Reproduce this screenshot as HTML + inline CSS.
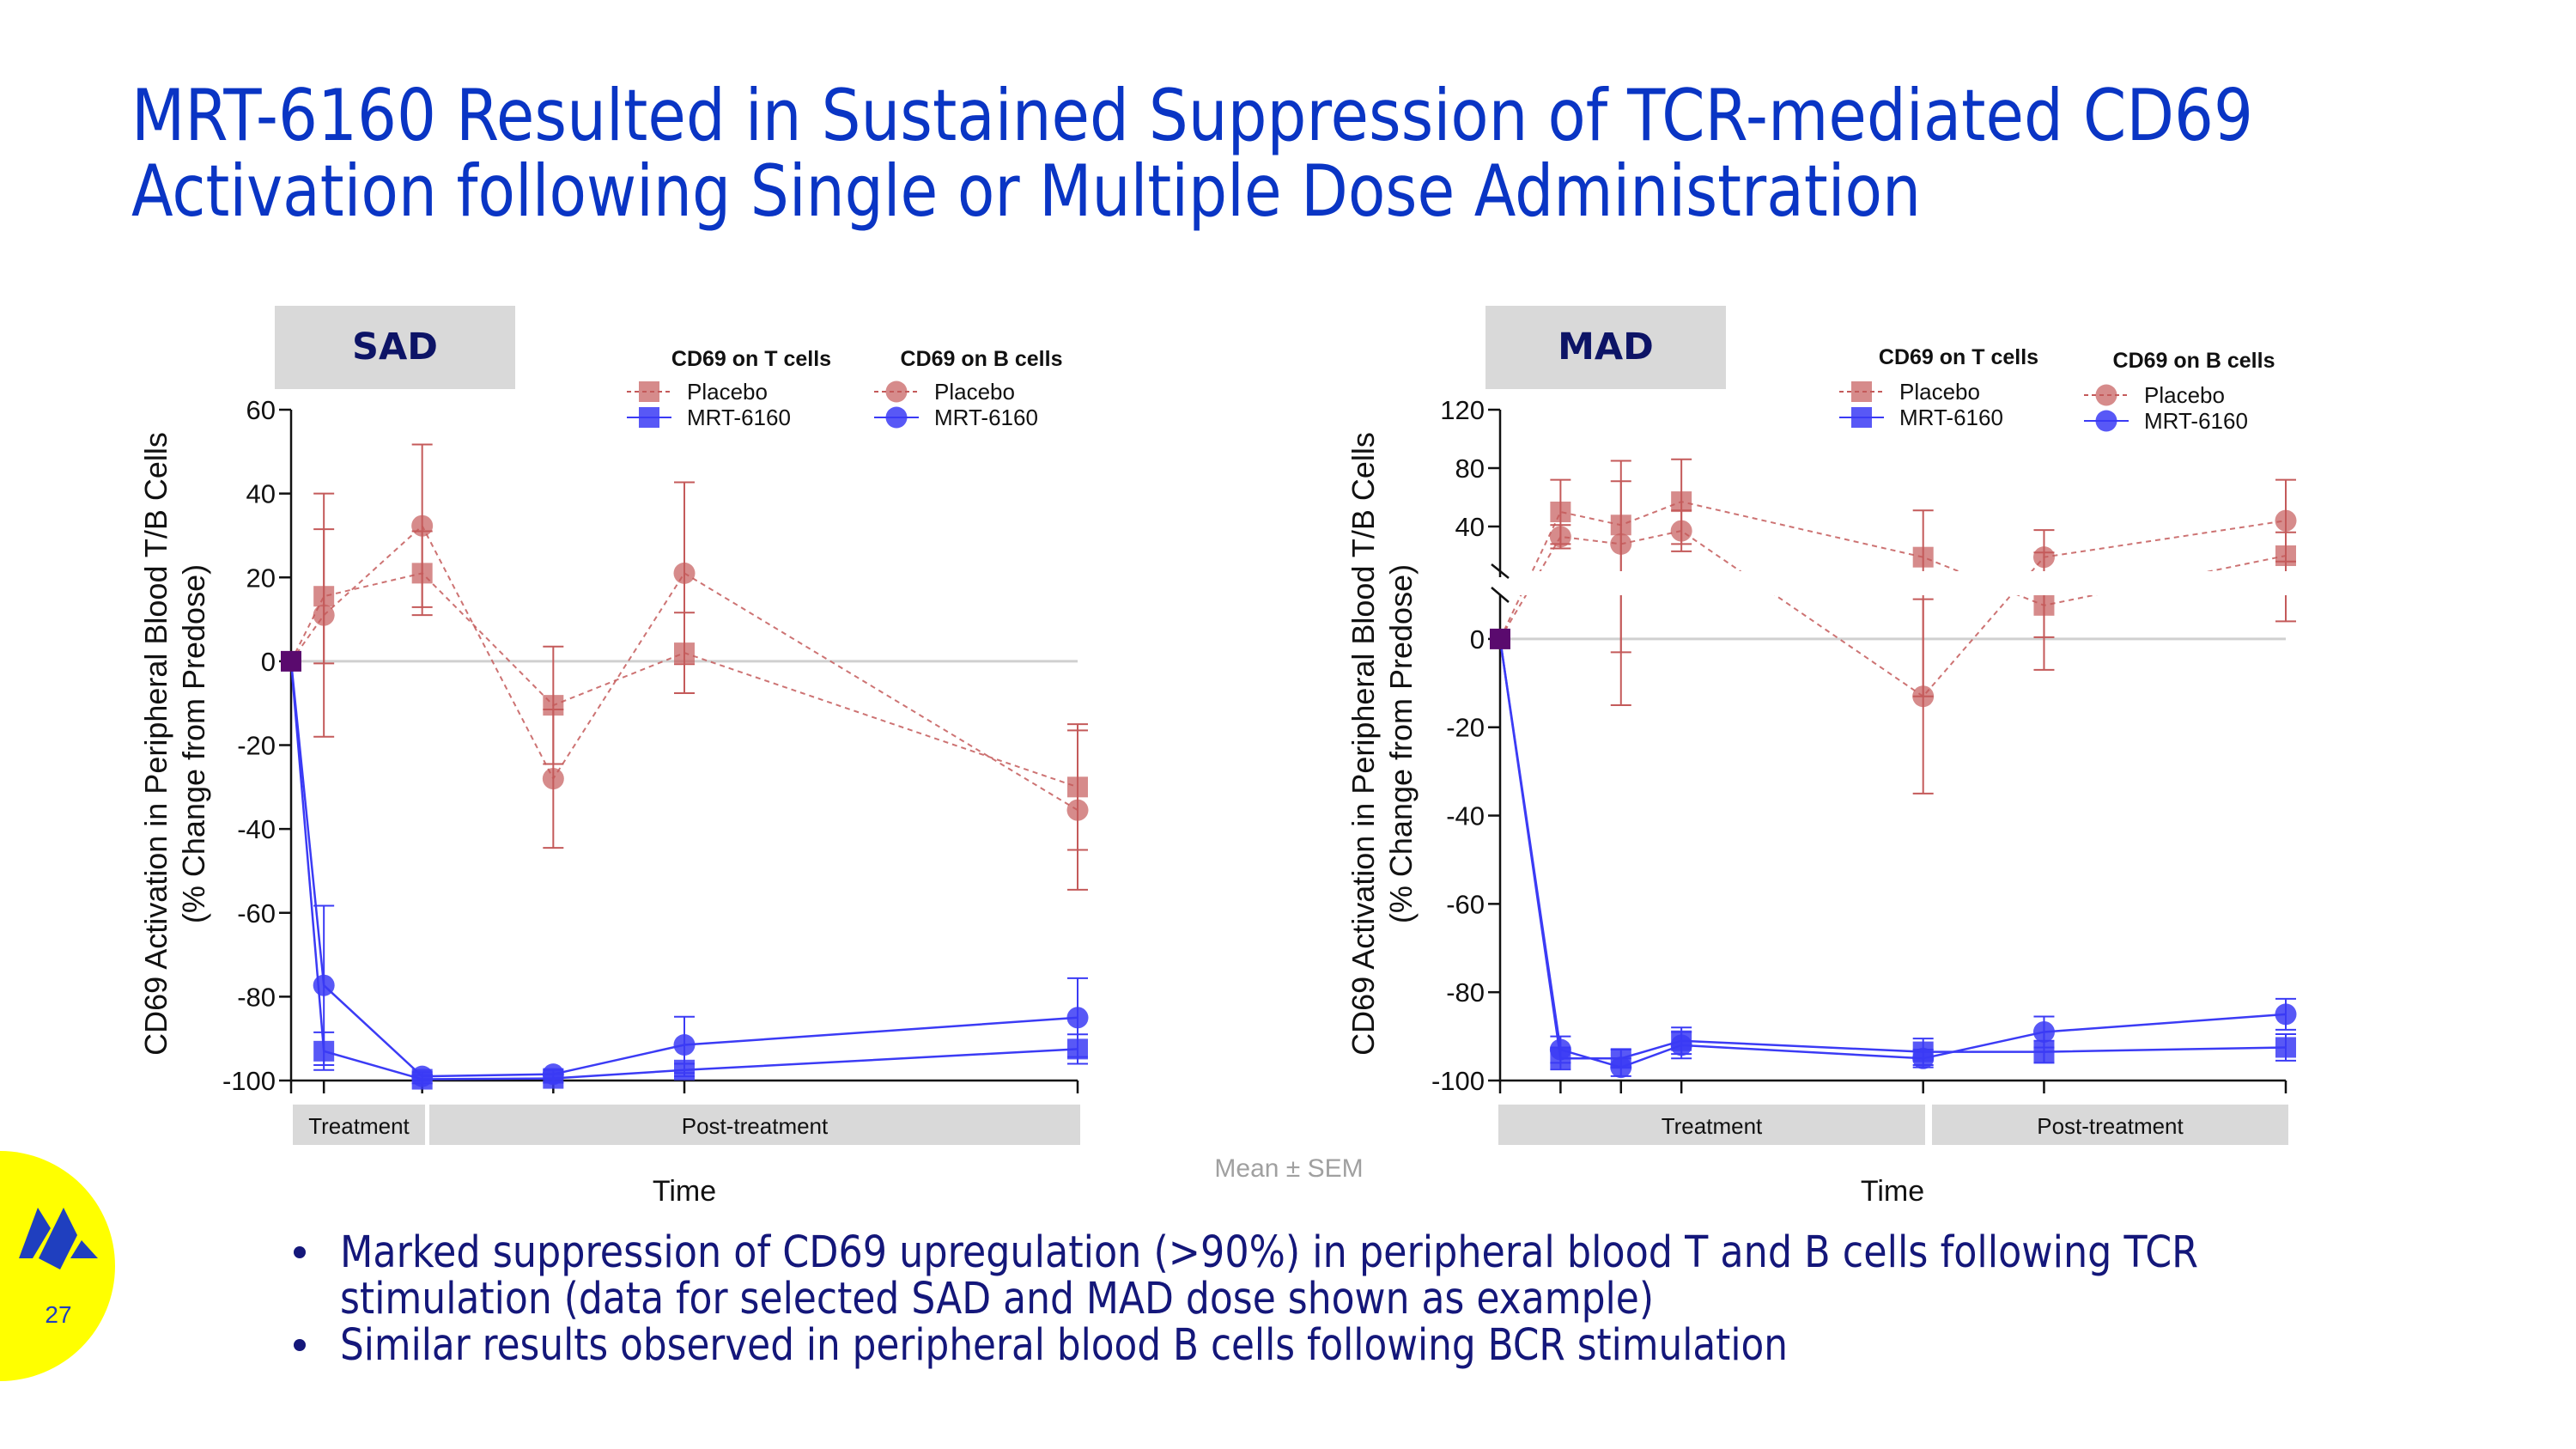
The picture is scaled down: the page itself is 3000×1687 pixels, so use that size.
<!DOCTYPE html>
<html><head><meta charset="utf-8"><style>
html,body{margin:0;padding:0;background:#fff;}
svg{display:block;}
text{font-family:"Liberation Sans","DejaVu Sans",sans-serif;}
</style></head><body>
<svg id="root" width="3000" height="1687" viewBox="0 0 3000 1687" xmlns="http://www.w3.org/2000/svg">
<defs>
<clipPath id="madClip"><rect x="1700" y="400" width="1100" height="265"/><rect x="1700" y="693" width="1100" height="700"/></clipPath>
</defs>
<g fill="#0a35c4" font-size="83">
<text x="153" y="163" textLength="2471" lengthAdjust="spacingAndGlyphs" style="font-family:'DejaVu Sans',sans-serif">MRT-6160 Resulted in Sustained Suppression of TCR-mediated CD69</text>
<text x="153" y="251" textLength="2084" lengthAdjust="spacingAndGlyphs" style="font-family:'DejaVu Sans',sans-serif">Activation following Single or Multiple Dose Administration</text>
</g>
<g id="sad"></g>
<g id="mad"></g>
<text x="1501" y="1370" font-size="30" fill="#a0a0a0" text-anchor="middle">Mean ± SEM</text>
<g fill="#14177a">
<circle cx="349" cy="1458" r="7"/>
<text x="396" y="1475" font-size="51" textLength="2164" lengthAdjust="spacingAndGlyphs" style="font-family:'DejaVu Sans',sans-serif">Marked suppression of CD69 upregulation (&gt;90%) in peripheral blood T and B cells following TCR</text>
<text x="396" y="1529" font-size="51" textLength="1530" lengthAdjust="spacingAndGlyphs" style="font-family:'DejaVu Sans',sans-serif">stimulation (data for selected SAD and MAD dose shown as example)</text>
<circle cx="349" cy="1566" r="7"/>
<text x="396" y="1583" font-size="51" textLength="1686" lengthAdjust="spacingAndGlyphs" style="font-family:'DejaVu Sans',sans-serif">Similar results observed in peripheral blood B cells following BCR stimulation</text>
</g>
<g>
<circle cx="0" cy="1474" r="134" fill="#ffff00"/>
<polygon points="22,1465 44,1406 59,1430 38,1465" fill="#1f3fbf"/>
<polygon points="45,1465 74,1406 90,1438 70,1478" fill="#1f3fbf"/>
<polygon points="95,1444 114,1465 82,1465" fill="#1f3fbf"/>
<text x="68" y="1540" font-size="28" fill="#1f3fbf" text-anchor="middle">27</text>
</g>
</svg>
<script>
// SAD data
const sadDays = [0, 1, 4, 8, 12, 24];
const sadTPlacebo = [0, 15.5, 21, -10.5, 2, -30];
const sadTPlaceboErr = [0, 16, 10, 14, 9.6, 15];
const sadBPlacebo = [0, 11, 32.3, -28, 21, -35.5];
const sadBPlaceboErr = [0, 29, 19.4, 16.5, 21.7, 19];
const sadTMrt = [0, -93, -99.7, -99.5, -97.5, -92.5];
const sadTMrtErr = [0, 4.5, 1, 1, 1.5, 3.5];
const sadBMrt = [0, -77.3, -99, -98.5, -91.5, -85];
const sadBMrtErr = [0, 19, 1, 1, 6.7, 9.4];
const sadYTicks = [60, 40, 20, 0, -20, -40, -60, -80, -100];
// MAD data
const madDays = [0, 1, 2, 3, 7, 9, 13];
const madTPlacebo = [0, 50, 41, 57, 19, 7.6, 20];
const madTPlaceboErr = [0, 22, 44, 29, 32, 14.6, 16];
const madBPlacebo = [0, 33, 28, 37, -13, 19, 44];
const madBPlaceboErr = [0, 8, 43, 14, 22, 18.6, 28];
const madTMrt = [0, -95, -95, -91, -93.5, -93.5, -92.5];
const madTMrtErr = [0, 2.5, 2, 3, 3, 2.5, 3];
const madBMrt = [0, -93, -97, -92, -95, -89, -85];
const madBMrtErr = [0, 3, 2, 3, 2, 3.5, 3.5];
const madYTicks = [120, 80, 40, 0, -20, -40, -60, -80, -100];

const NS = 'http://www.w3.org/2000/svg';
function mk(parent, tag, attrs, txt) {
  const e = document.createElementNS(NS, tag);
  for (const k in attrs) e.setAttribute(k, attrs[k]);
  if (txt !== undefined) e.textContent = txt;
  parent.appendChild(e);
  return e;
}
const PLC = '#c45a5a', MRT = '#3b3bf5';

function drawChart(g, cfg) {
  const xs = d => cfg.x0 + (d - cfg.days[0]) * (cfg.x1 - cfg.x0) / (cfg.days[cfg.days.length - 1] - cfg.days[0]);
  const ys = cfg.y;
  const box = mk(g, 'rect', {x: cfg.boxX, y: 356, width: 280, height: 97, fill: '#d9d9d9'});
  
  
  const bt = mk(g, 'text', {x: cfg.boxX + 140, y: 418, 'font-size': 43, 'font-weight': 'bold', fill: '#0d1466', 'text-anchor': 'middle', style: "font-family:'DejaVu Sans',sans-serif"}, cfg.label);
  
  
  const cy = 866;
  const t1 = mk(g, 'text', {x: 0, y: 0, 'font-size': 36, 'text-anchor': 'middle', fill: '#111', transform: `translate(${cfg.ytx},${cy}) rotate(-90)`}, 'CD69 Activation in Peripheral Blood T/B Cells');
  
  
  const t2 = mk(g, 'text', {x: 0, y: 0, 'font-size': 36, 'text-anchor': 'middle', fill: '#111', transform: `translate(${cfg.ytx + 44},${cy}) rotate(-90)`}, '(% Change from Predose)');
  
  
  const zl = mk(g, 'line', {x1: cfg.x0, x2: cfg.x1, y1: ys(0), y2: ys(0), stroke: '#d0d0d0', 'stroke-width': 3});
  
  
  const ax = mk(g, 'g', {stroke: '#111', 'stroke-width': 2.5, fill: 'none'});
  
  
  if (cfg.breakAxis) {
    mk(ax, 'line', {x1: cfg.x0, x2: cfg.x0, y1: ys(cfg.yTicks[0]), y2: 672});
    mk(ax, 'line', {x1: cfg.x0, x2: cfg.x0, y1: 693, y2: ys(-100)});
    mk(ax, 'line', {x1: cfg.x0 - 10, x2: cfg.x0 + 10, y1: 657, y2: 673});
    mk(ax, 'line', {x1: cfg.x0 - 10, x2: cfg.x0 + 10, y1: 684, y2: 701});
  } else {
    mk(ax, 'line', {x1: cfg.x0, x2: cfg.x0, y1: ys(cfg.yTicks[0]), y2: ys(-100)});
  }
  mk(ax, 'line', {x1: cfg.x0, x2: cfg.x1, y1: ys(-100), y2: ys(-100)});
  cfg.days.forEach(d => mk(ax, 'line', {x1: xs(d), x2: xs(d), y1: ys(-100), y2: ys(-100) + 15}));
  cfg.yTicks.forEach(v => {
    mk(ax, 'line', {x1: cfg.x0 - 14, x2: cfg.x0, y1: ys(v), y2: ys(v)});
    const tl = mk(g, 'text', {x: cfg.x0 - 18, y: ys(v) + 11, 'font-size': 31, 'text-anchor': 'end', fill: '#111'}, String(v));
    
    
  });
  cfg.bands.forEach(b => {
    const r = mk(g, 'rect', {x: b[0], y: 1286, width: b[1] - b[0], height: 47, fill: '#d9d9d9'});
    
    
    const bt2 = mk(g, 'text', {x: (b[0] + b[1]) / 2, y: 1320, 'font-size': 26, 'text-anchor': 'middle', fill: '#111'}, b[2]);
    
    
  });
  const tt = mk(g, 'text', {x: cfg.timeX, y: 1398, 'font-size': 34, 'text-anchor': 'middle', fill: '#111'}, 'Time');
  
  
  const plot = mk(g, 'g', cfg.breakAxis ? {'clip-path': 'url(#madClip)'} : {});
  
  
  cfg.series.forEach(s => {
    const sg = mk(plot, 'g', {});
    
    
    const col = s.placebo ? PLC : MRT;
    const pts = s.vals.map((v, i) => xs(cfg.days[i]) + ',' + ys(v)).join(' ');
    const pl = mk(sg, 'polyline', {points: pts, fill: 'none', stroke: col, 'stroke-width': s.placebo ? 2 : 2.5, 'stroke-dasharray': s.placebo ? '6,5' : 'none', opacity: s.placebo ? 0.85 : 1});
    
    
    s.vals.forEach((v, i) => {
      if (i === 0) return;
      const x = xs(cfg.days[i]), e = s.err[i];
      if (e > 0) {
        const eb = mk(sg, 'path', {d: `M${x},${ys(v + e)}V${ys(v - e)}M${x - 12},${ys(v + e)}H${x + 12}M${x - 12},${ys(v - e)}H${x + 12}`, stroke: col, 'stroke-width': 2, fill: 'none'});
        
        
      }
      let m;
      if (s.square) m = mk(sg, 'rect', {x: x - 12, y: ys(v) - 12, width: 24, height: 24, fill: col, 'fill-opacity': s.placebo ? 0.7 : 0.85});
      else m = mk(sg, 'circle', {cx: x, cy: ys(v), r: 12.5, fill: col, 'fill-opacity': s.placebo ? 0.7 : 0.85});
      
      
    });
  });
  const pd = mk(g, 'rect', {x: xs(cfg.days[0]) - 12, y: ys(0) - 12, width: 24, height: 24, fill: '#5a0a6e'});
  
  
  const lg = mk(g, 'g', {});
  
  
  const L = cfg.legend;
  mk(lg, 'text', {x: L.th, y: L.hy, 'font-size': 25, 'font-weight': 'bold', 'text-anchor': 'middle', fill: '#111'}, 'CD69 on T cells');
  mk(lg, 'text', {x: L.bh, y: L.hy + L.bdy, 'font-size': 25, 'font-weight': 'bold', 'text-anchor': 'middle', fill: '#111'}, 'CD69 on B cells');
  [[L.tm, 0], [L.bm, L.bdy]].forEach((p, k) => {
    const mx = p[0], dy = p[1];
    [[true, 456], [false, 486]].forEach(r => {
      const col = r[0] ? PLC : MRT, yy = r[1] + dy;
      mk(lg, 'line', {x1: mx - 26, x2: mx + 26, y1: yy, y2: yy, stroke: col, 'stroke-width': 2, 'stroke-dasharray': r[0] ? '5,4' : 'none'});
      if (k === 0) mk(lg, 'rect', {x: mx - 12, y: yy - 12, width: 24, height: 24, fill: col, 'fill-opacity': r[0] ? 0.7 : 0.85});
      else mk(lg, 'circle', {cx: mx, cy: yy, r: 12.5, fill: col, 'fill-opacity': r[0] ? 0.7 : 0.85});
      mk(lg, 'text', {x: mx + 44, y: yy + 9, 'font-size': 26, fill: '#111'}, r[0] ? 'Placebo' : 'MRT-6160');
    });
  });
}

function sadY(v) { return 477 + (60 - v) * (1258 - 477) / 160; }
function madY(v) {
  if (v >= 9.4) return 665 - (v - 9.4) * (665 - 477) / (120 - 9.4);
  if (v <= 9.9) return 1258 - (v + 100) * (1258 - 693) / 109.9;
  return 679;
}

drawChart(document.getElementById('sad'), {
  name: 'sad', label: 'SAD', boxX: 320, days: sadDays, x0: 339, x1: 1255, y: sadY, yTicks: sadYTicks,
  ytx: 194, timeX: 797, breakAxis: false,
  bands: [[341, 495, 'Treatment'], [500, 1258, 'Post-treatment']],
  legend: {th: 875, bh: 1143, hy: 426, bdy: 0, tm: 756, bm: 1044},
  series: [
    {id: 't-placebo', placebo: true, square: true, vals: sadTPlacebo, err: sadTPlaceboErr},
    {id: 'b-placebo', placebo: true, square: false, vals: sadBPlacebo, err: sadBPlaceboErr},
    {id: 't-mrt6160', placebo: false, square: true, vals: sadTMrt, err: sadTMrtErr},
    {id: 'b-mrt6160', placebo: false, square: false, vals: sadBMrt, err: sadBMrtErr}
  ]
});
drawChart(document.getElementById('mad'), {
  name: 'mad', label: 'MAD', boxX: 1730, days: madDays, x0: 1747, x1: 2662, y: madY, yTicks: madYTicks,
  ytx: 1600, timeX: 2204, breakAxis: true,
  bands: [[1745, 2242], [2250, 2665]].map((b, i) => [b[0], b[1], i ? 'Post-treatment' : 'Treatment']),
  legend: {th: 2281, bh: 2555, hy: 424, bdy: 4, tm: 2168, bm: 2453},
  series: [
    {id: 't-placebo', placebo: true, square: true, vals: madTPlacebo, err: madTPlaceboErr},
    {id: 'b-placebo', placebo: true, square: false, vals: madBPlacebo, err: madBPlaceboErr},
    {id: 't-mrt6160', placebo: false, square: true, vals: madTMrt, err: madTMrtErr},
    {id: 'b-mrt6160', placebo: false, square: false, vals: madBMrt, err: madBMrtErr}
  ]
});
</script>
</body></html>
